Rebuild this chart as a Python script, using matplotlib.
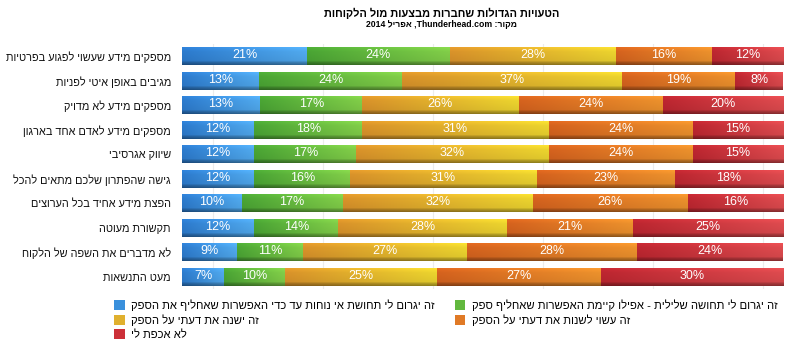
import re
import numpy as np
import matplotlib
matplotlib.use("Agg")
import matplotlib.pyplot as plt
from matplotlib.patches import Patch
from matplotlib.colors import to_rgb

plt.rcParams['font.family'] = ['Liberation Sans', 'DejaVu Sans']

title = "הטעויות הגדולות שחברות מבצעות מול הלקוחות"
subtitle = "מקור: Thunderhead.com, אפריל 2014"

categories = [
    "מספקים מידע שעשוי לפגוע בפרטיות",
    "מגיבים באופן איטי לפניות",
    "מספקים מידע לא מדויק",
    "מספקים מידע לאדם אחד בארגון",
    "שיווק אגרסיבי",
    "גישה שהפתרון שלכם מתאים להכל",
    "הפצת מידע אחיד בכל הערוצים",
    "תקשורת מעוטה",
    "לא מדברים את השפה של הלקוח",
    "מעט התנשאות",
]

series_names = [
    "זה יגרום לי תחושת אי נוחות עד כדי האפשרות שאחליף את הספק",
    "זה יגרום לי תחושה שלילית - אפילו קיימת האפשרות שאחליף ספק",
    "זה ישנה את דעתי על הספק",
    "זה עשוי לשנות את דעתי על הספק",
    "לא אכפת לי",
]

s_blue   = [21, 13, 13, 12, 12, 12, 10, 12, 9, 7]
s_green  = [24, 24, 17, 18, 17, 16, 17, 14, 11, 10]
s_yellow = [28, 37, 26, 31, 32, 31, 32, 28, 27, 25]
s_orange = [16, 19, 24, 24, 24, 23, 26, 21, 28, 27]
s_red    = [12, 8, 20, 15, 15, 18, 16, 25, 24, 30]
series = [s_blue, s_green, s_yellow, s_orange, s_red]

base_colors = ["#3a90dc", "#62b83e", "#e0b02e", "#e07a26", "#cc3038"]
left_colors = ["#2c7acc", "#4aa434", "#d8922a", "#d4621e", "#bc2630"]
right_colors = ["#50a8ec", "#80cc48", "#ead22e", "#ea902c", "#dc4a4e"]


def vis(s):
    """Simple visual ordering for RTL text (reverse, keep LTR runs intact)."""
    r = s[::-1]
    return re.sub(r"[A-Za-z0-9%][A-Za-z0-9.%]*[A-Za-z0-9%]|[A-Za-z0-9%]",
                  lambda m: m.group(0)[::-1], r)


fig = plt.figure(figsize=(8.0, 3.43), dpi=100)
ax = fig.add_axes([182 / 800, 1 - 289 / 343, 601 / 800, 245 / 343])

data = np.array(series, dtype=float)
totals = data.sum(axis=0)
pct = data / totals * 100
n = len(categories)
ypos = np.arange(n)[::-1]
h = 0.72

ax.set_xlim(0, 100)
ax.set_ylim(-0.5, n - 0.5)
ax.set_xticks(np.arange(5.2, 100, 18.3))
ax.grid(axis='x', color='#ececec', linewidth=0.8, zorder=0)
ax.set_axisbelow(True)
ax.tick_params(axis='x', length=0, labelbottom=False)
ax.tick_params(axis='y', length=0, pad=8)
for sp in ax.spines.values():
    sp.set_visible(False)

left = np.zeros(n)
vprof = np.concatenate([np.linspace(1.08, 1.0, 6), np.linspace(1.0, 0.95, 10), np.linspace(0.8, 0.62, 4)])
for k in range(len(series)):
    bars = ax.barh(ypos, pct[k], left=left, height=h, color=base_colors[k],
                   edgecolor='none', zorder=2)
    cl = np.array(to_rgb(left_colors[k]))
    cr = np.array(to_rgb(right_colors[k]))
    t = np.linspace(0, 1, 40)
    row = cl[None, :] * (1 - t[:, None]) + cr[None, :] * t[:, None]
    img = np.clip(row[None, :, :] * vprof[:, None, None], 0, 1)
    for p, v, l in zip(bars.patches, data[k], left):
        x0, y0 = p.get_x(), p.get_y()
        w, hh = p.get_width(), p.get_height()
        im = ax.imshow(img, extent=(x0, x0 + w, y0, y0 + hh), origin='upper',
                       aspect='auto', interpolation='bilinear', zorder=3)
        im.set_clip_path(p)
        ax.text(x0 + w / 2, y0 + hh * 0.56, f"{int(v)}%", ha='center', va='center',
                color='white', fontsize=9, zorder=5)
    left = left + pct[k]

ax.set_yticks(ypos)
ax.set_yticklabels([vis(c) for c in categories], fontsize=7.8, color='#111111')

fig.text(442 / 800, 1 - 13 / 343, vis(title), ha='center', va='center', fontsize=7.9,
         fontweight='bold')
fig.text(442 / 800, 1 - 24.5 / 343, vis(subtitle), ha='center', va='center', fontsize=6.2,
         fontweight='bold')

handles = [Patch(facecolor=base_colors[i], edgecolor='none') for i in range(5)]
order = [0, 2, 4, 1, 3]
leg = fig.legend([handles[i] for i in order], [vis(series_names[i]) for i in order],
                 ncol=2, loc='upper left', bbox_to_anchor=(114 / 800, 1 - 299 / 343),
                 frameon=False, fontsize=8.1, handlelength=0.95, handleheight=0.95,
                 handletextpad=0.6, labelspacing=0.32, columnspacing=1.75,
                 borderaxespad=0, borderpad=0)

fig.savefig("out.png", dpi=100, facecolor='white')
